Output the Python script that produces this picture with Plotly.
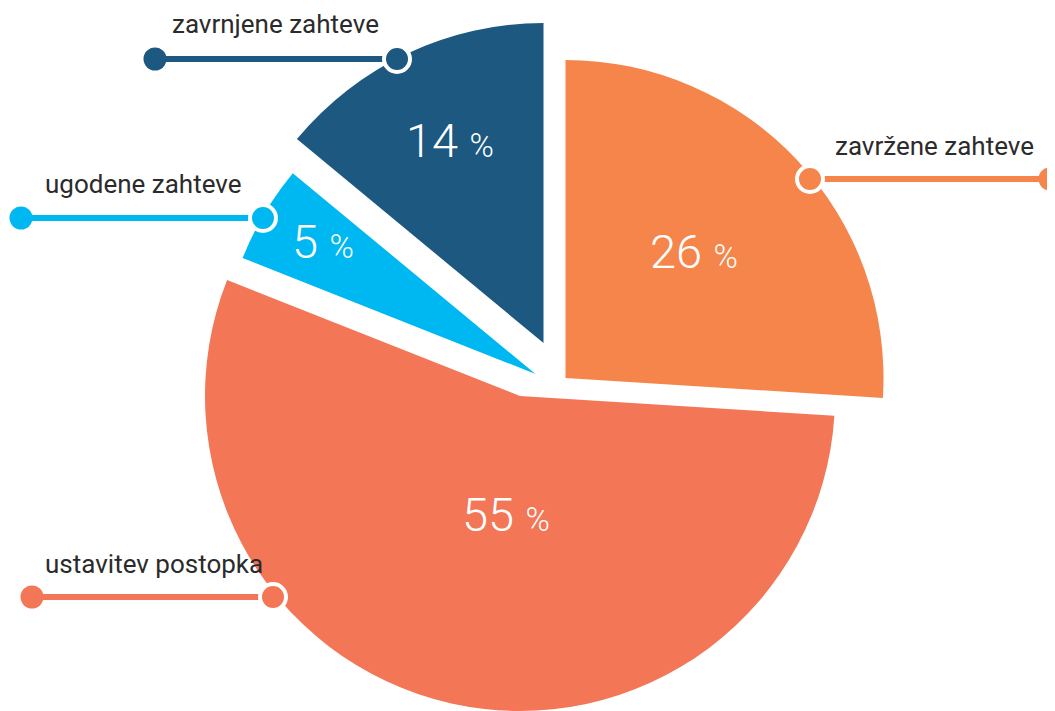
import math
import plotly.graph_objects as go

# ---------------- data ----------------
LABELS = ["zavržene zahteve", "ustavitev postopka", "ugodene zahteve", "zavrnjene zahteve"]
VALUES = [26, 55, 5, 14]
PCT_TEXT = ["26", "55", "5", "14"]

# ---------------- style / layout ----------------
VIEW_W, VIEW_H = 1055, 711
PAGE_MARGIN = 8          # default body margin of the html page
W, H = VIEW_W - PAGE_MARGIN, VIEW_H - PAGE_MARGIN
COLORS = ["#F5854A", "#F37657", "#00B8F1", "#1C587F"]
# screen-pixel position of each slice's tip and its radius (each slice is laid out separately)
APEX = [(565.5, 378.0), (520.0, 396.0), (535.5, 374.0), (543.5, 343.0)]
RADIUS = [318, 315, 315, 320]
LABEL_FRAC = [0.57, 0.38, 0.80, 0.70]
LABEL_NUDGE = [(-4, -2), (12, 2), (4, -4), (2, 0)]

# callouts: (dot x, ring x, y, text x, text baseline)
CALLOUT = [
    (1050, 810, 179, 833, 155),
    (32, 273, 597, 43, 573),
    (21, 263, 218, 43, 193),
    (155, 397, 59, 170, 33),
]

FONT = "Roboto"
TEXT_COLOR = "#2B2B2B"


def fx(x):
    return (x - PAGE_MARGIN) / W


def fy(y):
    return 1 - (y - PAGE_MARGIN) / H


fig = go.Figure()
total = sum(VALUES)
n = len(VALUES)

for k in range(n):
    ax, ay = APEX[k]
    r = RADIUS[k]
    colors = [COLORS[i] if i == k else "rgba(0,0,0,0)" for i in range(n)]
    fig.add_trace(go.Pie(
        labels=LABELS,
        values=VALUES,
        sort=False,
        direction="clockwise",
        rotation=0,
        marker=dict(colors=colors, line=dict(width=0)),
        textinfo="none",
        hoverinfo="label+percent",
        showlegend=False,
        domain=dict(
            x=[max(0, fx(ax - r)), min(1, fx(ax + r))],
            y=[max(0, fy(ay + r)), min(1, fy(ay - r))],
        ),
    ))

annotations = []
shapes = []
cum = 0
for k in range(n):
    v = VALUES[k]
    mid = (cum + v / 2) / total * 2 * math.pi
    cum += v
    ax, ay = APEX[k]
    r = RADIUS[k] * LABEL_FRAC[k]
    lx = ax + r * math.sin(mid) + LABEL_NUDGE[k][0]
    ly = ay - r * math.cos(mid) + LABEL_NUDGE[k][1]
    annotations.append(dict(
        x=fx(lx), y=fy(ly), xref="paper", yref="paper", xanchor="center", yanchor="middle",
        text=f"{PCT_TEXT[k]} <span style='font-size:33px'>%</span>",
        showarrow=False,
        font=dict(family=FONT, size=47, color="white", weight=300),
    ))

    dx, rx, cy, tx, tb = CALLOUT[k]
    c = COLORS[k]
    shapes.append(dict(type="line", xref="paper", yref="paper",
                       x0=fx(dx), y0=fy(cy), x1=fx(rx), y1=fy(cy),
                       line=dict(color=c, width=6), layer="above"))
    # end dot
    rd = 11.5
    shapes.append(dict(type="circle", xref="paper", yref="paper",
                       x0=fx(dx - rd), x1=fx(dx + rd), y0=fy(cy + rd), y1=fy(cy - rd),
                       fillcolor=c, line=dict(width=0), layer="above"))
    # ring dot
    rr = 13
    shapes.append(dict(type="circle", xref="paper", yref="paper",
                       x0=fx(rx - rr), x1=fx(rx + rr), y0=fy(cy + rr), y1=fy(cy - rr),
                       fillcolor=c, line=dict(width=4, color="white"), layer="above"))
    annotations.append(dict(
        x=fx(tx), y=fy(tb - 9), xref="paper", yref="paper", xanchor="left", yanchor="middle",
        text=LABELS[k], showarrow=False,
        font=dict(family=FONT, size=26, color=TEXT_COLOR),
    ))

fig.update_layout(
    width=W, height=H,
    margin=dict(l=0, r=0, t=0, b=0),
    paper_bgcolor="white", plot_bgcolor="white",
    showlegend=False,
    annotations=annotations,
    shapes=shapes,
)

fig.write_html("out.html")
